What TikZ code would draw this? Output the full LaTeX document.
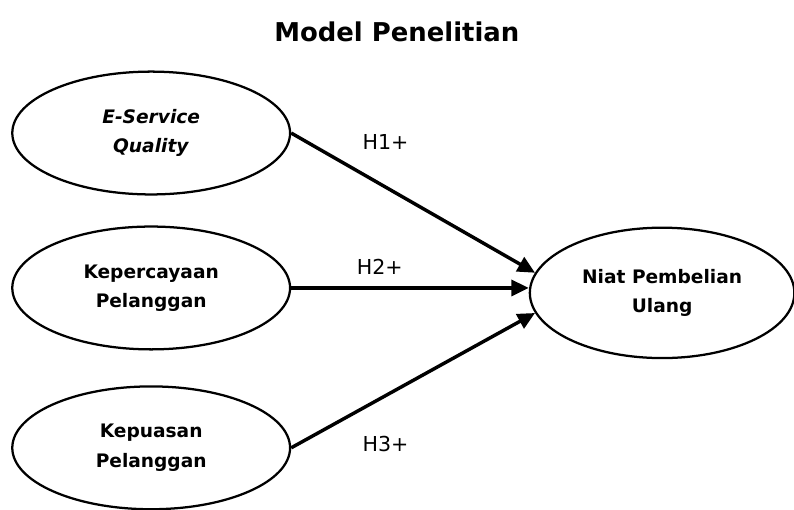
\documentclass[tikz,border=0pt]{standalone}
\usepackage{fontspec}
\setmainfont{DejaVu Sans}
\usepackage{tikz}
\usetikzlibrary{arrows.meta,shapes.geometric}

\tikzset{
  var/.style={ellipse, draw, line width=1.7pt, minimum width=7.35cm, minimum height=3.25cm,
    inner sep=0pt, align=center, font=\bfseries\fontsize{14}{22}\selectfont},
  path/.style={line width=2.6pt, -{Triangle[length=13pt,width=12pt]}},
  hyp/.style={font=\fontsize{15.5}{18}\selectfont}
}

\begin{document}
\begin{tikzpicture}
\useasboundingbox (0,0) rectangle (21.01,-13.49);
% judul
\node[font=\bfseries\fontsize{19.5}{22}\selectfont] (judul) at (10.5,-0.85) {Model Penelitian};
% variabel
\node[var] (esq) at (4.0,-3.52) {\textit{E-Service}\\\textit{Quality}};
\node[var] (kp) at (4.0,-7.62) {Kepercayaan\\Pelanggan};
\node[var] (kq) at (4.0,-11.85) {Kepuasan\\Pelanggan};
\node[var, minimum width=7.0cm, minimum height=3.45cm] (npu) at (17.52,-7.75) {Niat Pembelian\\Ulang};
% hipotesis
\draw[path] (esq.east) -- (npu.171);
\draw[path] (kp.east) -- (kp.east -| npu.west);
\draw[path] (kq.east) -- (npu.189);
\node[hyp] (h1) at (10.2,-3.75) {H1+};
\node[hyp] (h2) at (10.05,-7.05) {H2+};
\node[hyp] (h3) at (10.2,-11.75) {H3+};
\end{tikzpicture}
\end{document}
